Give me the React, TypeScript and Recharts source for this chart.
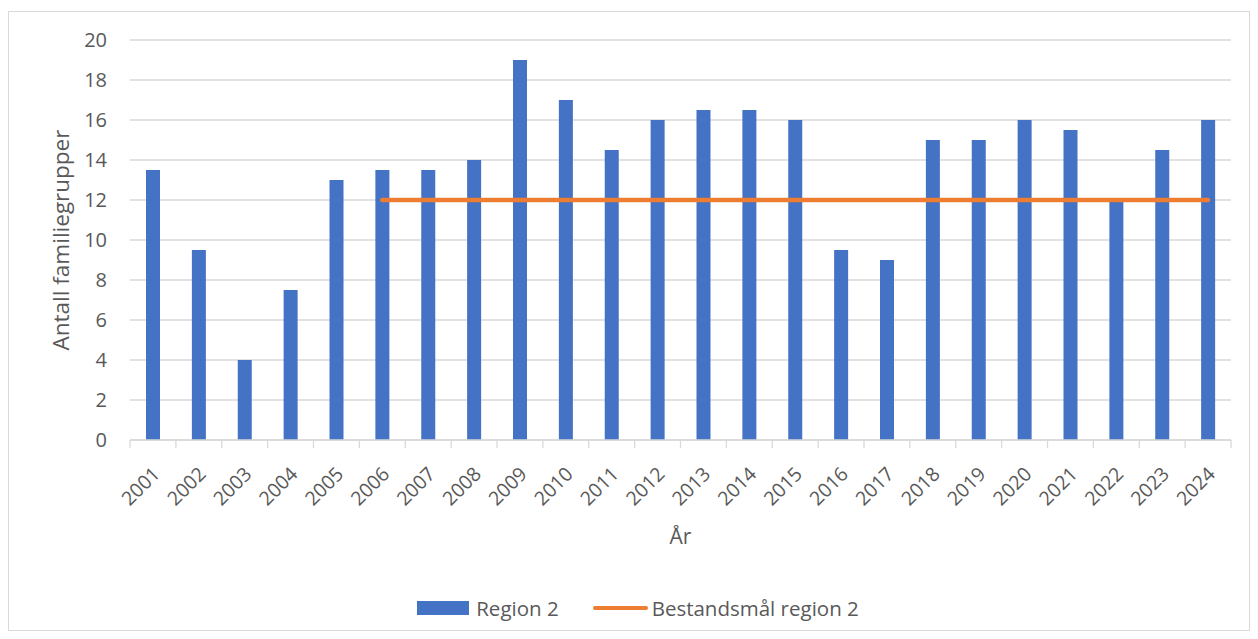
import { ComposedChart, Bar, Line, XAxis, YAxis, CartesianGrid, Legend } from 'recharts';

const years = ['2001', '2002', '2003', '2004', '2005', '2006', '2007', '2008', '2009', '2010', '2011', '2012',
    '2013', '2014', '2015', '2016', '2017', '2018', '2019', '2020', '2021', '2022', '2023', '2024'];
const region2 = [13.5, 9.5, 4, 7.5, 13, 13.5, 13.5, 14, 19, 17, 14.5, 16, 16.5, 16.5, 16, 9.5, 9, 15, 15, 16, 15.5, 12, 14.5, 16];
const bestandsmal = [null, null, null, null, null, 12, 12, 12, 12, 12, 12, 12, 12, 12, 12, 12, 12, 12, 12, 12, 12, 12, 12, 12];
const yTicks = [0, 2, 4, 6, 8, 10, 12, 14, 16, 18, 20];

const data = years.map((year, i) => ({ year, region: region2[i], maal: bestandsmal[i] }));

const FONT = '"Open Sans", sans-serif';
const TEXT = '#595959';
const GRID = '#d9d9d9';
const BLUE = '#4472C4';
const ORANGE = '#ED7D31';

// year labels at 45deg + small tick marks on the category boundaries
const YearTick = (props: any) => {
    const { x, y, payload, index, visibleTicksCount } = props;
    const half = payload.offset || 0;
    const tx = x + 3;
    const ty = y + 30;
    return (
        <g>
            <line x1={x - half} y1={y} x2={x - half} y2={y + 8} stroke={GRID} strokeWidth={1.3} />
            {index === visibleTicksCount - 1 && (
                <line x1={x + half} y1={y} x2={x + half} y2={y + 8} stroke={GRID} strokeWidth={1.3} />
            )}
            <text x={tx} y={ty} transform={`rotate(-45, ${tx}, ${ty})`} textAnchor="end"
                dominantBaseline="central" fill={TEXT} fontSize={19.5} fontFamily={FONT}>
                {payload.value}
            </text>
        </g>
    );
};

const renderLegend = () => (
    <div style={{ display: 'flex', justifyContent: 'center', alignItems: 'center', height: 24, fontFamily: FONT, fontSize: 20.5, color: TEXT, paddingLeft: 36 }}>
        <span style={{ display: 'inline-block', width: 52, height: 14, background: BLUE, marginRight: 7 }} />
        <span style={{ marginRight: 34 }}>Region 2</span>
        <span style={{ display: 'inline-block', width: 55, height: 4, borderRadius: 2, background: ORANGE, marginRight: 4 }} />
        <span>Bestandsmål region 2</span>
    </div>
);

export default function App() {
    return (
        <div style={{ paddingTop: 3 }}>
            <div style={{ width: 1240, height: 618, border: `1px solid ${GRID}`, background: '#fff' }}>
                <ComposedChart width={1240} height={618} data={data} margin={{ top: 28, right: 18, left: 0, bottom: 10 }}>
                    <CartesianGrid vertical={false} stroke={GRID} strokeWidth={1.3} />
                    <XAxis dataKey="year" height={156} axisLine={{ stroke: GRID, strokeWidth: 1.3 }} tickLine={false}
                        tickSize={0} tickMargin={0} interval={0} tick={<YearTick />}
                        label={{ value: 'År', position: 'insideBottom', offset: 52, fill: TEXT, fontSize: 21, fontFamily: FONT }} />
                    <YAxis width={121} domain={[0, 20]} ticks={yTicks} axisLine={false} tickLine={false} tickSize={0} tickMargin={23}
                        tick={{ fill: TEXT, fontSize: 20, fontFamily: FONT }}
                        label={{ value: 'Antall familiegrupper', angle: -90, position: 'insideLeft', offset: 52, fill: TEXT, fontSize: 22.5, fontFamily: FONT, style: { textAnchor: 'middle' } }} />
                    <Bar dataKey="region" name="Region 2" fill={BLUE} barSize={14} isAnimationActive={false} />
                    <Line dataKey="maal" name="Bestandsmål region 2" stroke={ORANGE} strokeWidth={4.5} strokeLinecap="round"
                        dot={false} activeDot={false} isAnimationActive={false} />
                    <Legend verticalAlign="bottom" content={renderLegend} />
                </ComposedChart>
            </div>
        </div>
    );
}
